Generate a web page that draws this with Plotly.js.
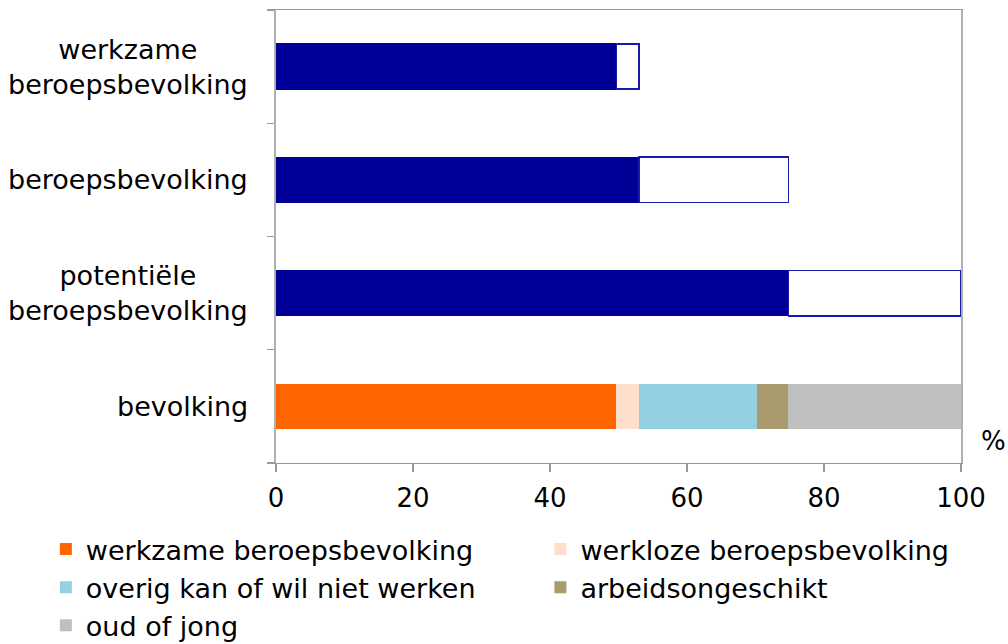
<!DOCTYPE html>
<html><head><meta charset="utf-8">
<script src="https://cdn.plot.ly/plotly-3.0.1.min.js"></script>
<style>html,body{margin:0;padding:0;background:#fff}#chart{width:1008px;height:644px}</style>
</head><body><div id="chart"></div>
<script>
// categories, bottom to top
const categoryKeys = ['bevolking', 'potentiële beroepsbevolking', 'beroepsbevolking', 'werkzame beroepsbevolking'];
const categoryLabels = ['bevolking', 'potentiële<br>beroepsbevolking', 'beroepsbevolking', 'werkzame<br>beroepsbevolking'];

// composition of "bevolking" (%)
const compNames = ['werkzame beroepsbevolking', 'werkloze beroepsbevolking', 'overig kan of wil niet werken', 'arbeidsongeschikt', 'oud of jong'];
const compValues = [49.7, 3.3, 17.2, 4.6, 25.2];
const compColors = ['#FF6600', '#FFDFCC', '#92D0E2', '#AA9B6E', '#BFBFBF'];
const compLegend = ['legend', 'legend2', 'legend', 'legend2', 'legend'];

// subsets (% of bevolking): filled part and outlined remainder
const subsetCats = ['potentiële beroepsbevolking', 'beroepsbevolking', 'werkzame beroepsbevolking'];
const subsetFilled = [74.8, 53.0, 49.7];
const subsetRemainder = [25.2, 21.8, 3.3];

const xTicks = [0, 20, 40, 60, 80, 100];

const FONT = 'DejaVu Sans, Verdana, sans-serif';
const NAVY = '#000099';

const traces = [];
traces.push({
  type: 'bar', orientation: 'h', y: subsetCats, x: subsetFilled,
  marker: {color: NAVY, line: {color: NAVY, width: 1}},
  showlegend: false, hoverinfo: 'x+y'
});
traces.push({
  type: 'bar', orientation: 'h', y: subsetCats, x: subsetRemainder,
  marker: {color: '#FFFFFF', line: {color: '#1a1aa8', width: 1.6}},
  showlegend: false, hoverinfo: 'x+y'
});
compNames.forEach((n, i) => {
  traces.push({
    type: 'bar', orientation: 'h', name: n,
    y: [categoryKeys[0]], x: [compValues[i]],
    marker: {color: compColors[i], line: {width: 0}},
    legend: compLegend[i]
  });
});

const annotations = categoryKeys.map((k, i) => ({
  xref: 'paper', x: 0, xanchor: 'right', xshift: -26,
  yref: 'y', y: k, yanchor: 'middle',
  text: categoryLabels[i], align: 'center', showarrow: false,
  font: {family: FONT, size: 27, color: '#000'}
}));
annotations.push({
  xref: 'paper', x: 1, xanchor: 'left', xshift: 18,
  yref: 'paper', y: 0.049, yanchor: 'middle',
  text: '%', showarrow: false,
  font: {family: FONT, size: 26, color: '#000'}
});

const legendBase = {
  orientation: 'v', traceorder: 'normal', xanchor: 'left', yanchor: 'top',
  y: -0.137, bgcolor: 'rgba(0,0,0,0)', borderwidth: 0,
  font: {family: FONT, size: 27, color: '#000'}, itemclick: false
};

const layout = {
  width: 1008, height: 644,
  margin: {l: 276, r: 47, t: 10, b: 181, autoexpand: false},
  paper_bgcolor: '#fff', plot_bgcolor: '#fff',
  barmode: 'stack', bargap: 0.6,
  font: {family: FONT, size: 26, color: '#000'},
  xaxis: {
    range: [0, 100], tickvals: xTicks, ticktext: xTicks.map(String),
    ticks: 'outside', ticklen: 8, tickcolor: '#999', tickwidth: 1.3,
    showline: true, linecolor: '#999', linewidth: 1.3, mirror: true,
    showgrid: false, zeroline: false, ticklabelstandoff: 3,
    tickfont: {family: FONT, size: 26, color: '#000'}
  },
  yaxis: {
    type: 'category', categoryorder: 'array', categoryarray: categoryKeys,
    range: [-0.5, 3.5], ticks: 'outside', tickson: 'boundaries', ticklen: 7,
    tickcolor: '#999', tickwidth: 1.3,
    showline: true, linecolor: '#b0b0b0', linewidth: 1.6, mirror: true,
    showgrid: false, zeroline: false, showticklabels: false
  },
  legend: Object.assign({}, legendBase, {x: -0.336}),
  legend2: Object.assign({}, legendBase, {x: 0.386}),
  annotations: annotations,
  showlegend: true
};

Plotly.newPlot('chart', traces, layout, {displayModeBar: false, staticPlot: true});
</script>
</body></html>
